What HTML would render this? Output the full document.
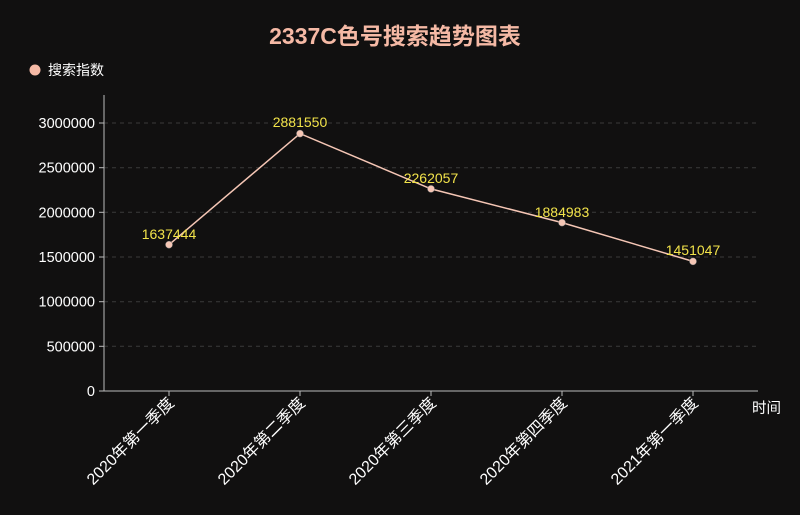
<!DOCTYPE html>
<html><head><meta charset="utf-8"><style>
html,body{margin:0;padding:0;background:#111010;width:800px;height:515px;overflow:hidden}
text{font-family:"Liberation Sans","Noto Sans CJK SC",sans-serif}
</style></head><body>
<svg width="800" height="515" viewBox="0 0 800 515" xmlns="http://www.w3.org/2000/svg">
<rect width="800" height="515" fill="#111010"/>
<text x="395" y="44" text-anchor="middle" font-size="23" font-weight="bold" fill="#f5b9a5">2337C色号搜索趋势图表</text>
<circle cx="35" cy="70" r="5.5" fill="#f5b9a5"/>
<text x="48" y="75" font-size="14" fill="#fff">搜索指数</text>
<g stroke="#3a3a3a" stroke-dasharray="4,4" stroke-width="1">
<line x1="104" y1="123" x2="757" y2="123"/>
<line x1="104" y1="167.7" x2="757" y2="167.7"/>
<line x1="104" y1="212.3" x2="757" y2="212.3"/>
<line x1="104" y1="257" x2="757" y2="257"/>
<line x1="104" y1="301.7" x2="757" y2="301.7"/>
<line x1="104" y1="346.3" x2="757" y2="346.3"/>
</g>
<g stroke="#bbb" stroke-width="1">
<line x1="104" y1="95" x2="104" y2="391"/>
<line x1="104" y1="391" x2="758" y2="391"/>
<line x1="99" y1="123" x2="104" y2="123"/><line x1="99" y1="167.7" x2="104" y2="167.7"/>
<line x1="99" y1="212.3" x2="104" y2="212.3"/><line x1="99" y1="257" x2="104" y2="257"/>
<line x1="99" y1="301.7" x2="104" y2="301.7"/><line x1="99" y1="346.3" x2="104" y2="346.3"/>
<line x1="99" y1="391" x2="104" y2="391"/>
<line x1="169" y1="391" x2="169" y2="396"/><line x1="300" y1="391" x2="300" y2="396"/>
<line x1="431" y1="391" x2="431" y2="396"/><line x1="562" y1="391" x2="562" y2="396"/>
<line x1="693" y1="391" x2="693" y2="396"/>
</g>
<g font-size="14.5" fill="#fff" text-anchor="end">
<text x="95" y="128">3000000</text><text x="95" y="172.7">2500000</text>
<text x="95" y="217.3">2000000</text><text x="95" y="262">1500000</text>
<text x="95" y="306.7">1000000</text><text x="95" y="351.3">500000</text>
<text x="95" y="396">0</text>
</g>
<text x="752" y="413" font-size="14.5" fill="#fff">时间</text>
<g font-size="16" fill="#fff" text-anchor="end">
<text transform="translate(175,404) rotate(-45)">2020年第一季度</text>
<text transform="translate(306,404) rotate(-45)">2020年第二季度</text>
<text transform="translate(437,404) rotate(-45)">2020年第三季度</text>
<text transform="translate(568,404) rotate(-45)">2020年第四季度</text>
<text transform="translate(699,404) rotate(-45)">2021年第一季度</text>
</g>
<polyline points="169,244.7 300,133.6 431,188.9 562,222.6 693,261.4" fill="none" stroke="#f5c6b5" stroke-width="1.5"/>
<g fill="#f5c6b5" stroke="#888" stroke-width="0.5">
<circle cx="169" cy="244.7" r="3.5"/><circle cx="300" cy="133.6" r="3.5"/>
<circle cx="431" cy="188.9" r="3.5"/><circle cx="562" cy="222.6" r="3.5"/>
<circle cx="693" cy="261.4" r="3.5"/>
</g>
<g font-size="14" fill="#f2e34a" text-anchor="middle">
<text x="169" y="239">1637444</text><text x="300" y="127">2881550</text>
<text x="431" y="183">2262057</text><text x="562" y="217">1884983</text>
<text x="693" y="255">1451047</text>
</g>
</svg>
</body></html>
